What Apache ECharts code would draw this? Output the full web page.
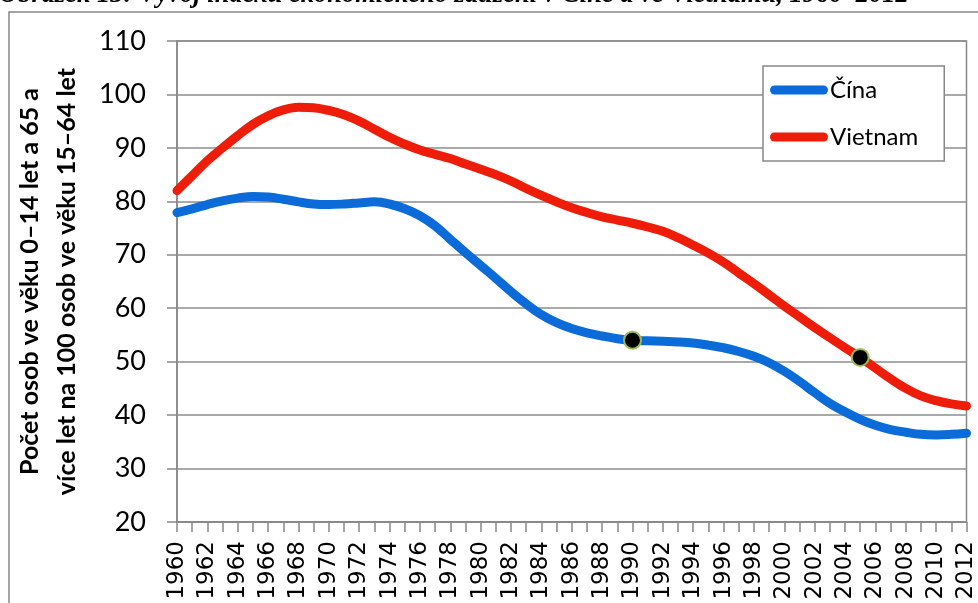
<!DOCTYPE html>
<html>
<head>
<meta charset="utf-8">
<script src="https://cdn.jsdelivr.net/npm/echarts@6/dist/echarts.min.js"></script>
<style>
  html, body { margin: 0; padding: 0; background: #fff; }
  #chart { width: 978px; height: 603px; }
</style>
</head>
<body>
<div id="chart"></div>
<script>
var years = ['1960','1961','1962','1963','1964','1965','1966','1967','1968','1969',
  '1970','1971','1972','1973','1974','1975','1976','1977','1978','1979',
  '1980','1981','1982','1983','1984','1985','1986','1987','1988','1989',
  '1990','1991','1992','1993','1994','1995','1996','1997','1998','1999',
  '2000','2001','2002','2003','2004','2005','2006','2007','2008','2009',
  '2010','2011','2012']

// index ekonomického zatížení
var cina = [77.9, 78.6, 79.4, 80.1, 80.6, 80.9, 80.8, 80.4, 79.9, 79.5,
  79.4, 79.5, 79.7, 79.9, 79.5, 78.6, 77.3, 75.4, 72.9, 70.4,
  68.0, 65.6, 63.1, 60.8, 58.8, 57.3, 56.2, 55.4, 54.8, 54.3,
  54.0, 53.9, 53.8, 53.7, 53.5, 53.1, 52.6, 51.9, 51.0, 49.8,
  48.2, 46.3, 44.2, 42.2, 40.6, 39.2, 38.1, 37.3, 36.8, 36.4,
  36.3, 36.4, 36.6]
var vietnam = [82.0, 84.8, 87.6, 90.0, 92.3, 94.4, 96.0, 97.1, 97.6, 97.5,
  97.0, 96.2, 95.0, 93.5, 92.0, 90.7, 89.6, 88.8, 88.0, 87.0,
  86.0, 85.0, 83.8, 82.4, 81.1, 79.9, 78.8, 77.9, 77.1, 76.5,
  75.9, 75.2, 74.4, 73.2, 71.8, 70.3, 68.6, 66.6, 64.6, 62.5,
  60.4, 58.4, 56.4, 54.5, 52.6, 50.8, 48.8, 46.8, 45.0, 43.6,
  42.7, 42.1, 41.7]

var cinaMarkYear = '1990'
var vietnamMarkYear = '2005'

var yTicks = { min: 20, max: 110, step: 10 }

function withMarker(values, markYear) {
  return values.map(function (v, i) {
    if (years[i] !== markYear) return v
    return {
      value: v,
      symbolSize: 17,
      itemStyle: { color: '#000', borderColor: '#9bbb59', borderWidth: 2 }
    }
  })
}

var chart = echarts.init(document.getElementById('chart'))

chart.setOption({
  animation: false,
  backgroundColor: '#fff',
  graphic: [
    {
      type: 'rect',
      shape: { x: 9, y: 12, width: 1100, height: 700 },
      style: { fill: 'none', stroke: '#878787', lineWidth: 1.5 },
      silent: true
    },
    {
      type: 'text',
      left: -1,
      top: -18,
      style: {
        text: 'Obrázek 13: Vývoj indexu ekonomického zatížení v Číně a ve Vietnamu, 1960–2012',
        font: 'italic bold 26.5px "Liberation Serif"',
        fill: '#000'
      },
      silent: true
    }
  ],
  grid: {
    left: 177,
    right: 10,
    top: 41,
    bottom: 81,
    show: true,
    borderColor: '#888',
    borderWidth: 1.5
  },
  legend: {
    orient: 'vertical',
    left: 763,
    top: 66,
    padding: [12, 26, 12, 7],
    itemGap: 23,
    itemWidth: 58,
    itemHeight: 9,
    icon: 'path://M4.5,0H53.5A4.5,4.5,0,0,1,53.5,9H4.5A4.5,4.5,0,0,1,4.5,0Z',
    backgroundColor: '#fff',
    borderColor: '#888',
    borderWidth: 1.5,
    borderRadius: 0,
    textStyle: { fontFamily: 'Lato', fontSize: 24, color: '#000', padding: [0, 0, 0, -3] },
    data: ['Čína', 'Vietnam']
  },
  xAxis: {
    type: 'category',
    data: years,
    boundaryGap: false,
    axisLine: { lineStyle: { color: '#888', width: 1.5 } },
    axisTick: { interval: 0, length: 10, lineStyle: { color: '#888', width: 1.5 } },
    axisLabel: {
      interval: 1,
      rotate: 90,
      margin: 19,
      fontFamily: 'DejaVu Sans',
      fontSize: 23,
      color: '#000'
    },
    splitLine: { show: false }
  },
  yAxis: {
    type: 'value',
    min: yTicks.min,
    max: yTicks.max,
    interval: yTicks.step,
    name: 'Počet osob ve věku 0–14 let a 65 a\nvíce let na 100 osob ve věku 15–64 let',
    nameLocation: 'middle',
    nameGap: 92,
    nameTextStyle: {
      fontFamily: 'Lato',
      fontWeight: 'bold',
      fontSize: 25,
      lineHeight: 37,
      color: '#000'
    },
    axisLine: { show: true, lineStyle: { color: '#888', width: 1.5 } },
    axisTick: { show: true, length: 10, lineStyle: { color: '#888', width: 1.5 } },
    axisLabel: { margin: 31, fontFamily: 'Lato', fontSize: 27, color: '#000' },
    splitLine: { lineStyle: { color: '#8c8c8c', width: 1.5 } }
  },
  series: [
    {
      name: 'Čína',
      type: 'line',
      smooth: 0.4,
      symbol: 'circle',
      symbolSize: 0,
      showSymbol: true,
      showAllSymbol: true,
      color: '#0b6bd8',
      lineStyle: { color: '#0b6bd8', width: 9, cap: 'round' },
      emphasis: { disabled: true },
      data: withMarker(cina, cinaMarkYear)
    },
    {
      name: 'Vietnam',
      type: 'line',
      smooth: 0.4,
      symbol: 'circle',
      symbolSize: 0,
      showSymbol: true,
      showAllSymbol: true,
      color: '#ee1d0a',
      lineStyle: { color: '#ee1d0a', width: 9, cap: 'round' },
      emphasis: { disabled: true },
      data: withMarker(vietnam, vietnamMarkYear)
    }
  ]
})
</script>
</body>
</html>
